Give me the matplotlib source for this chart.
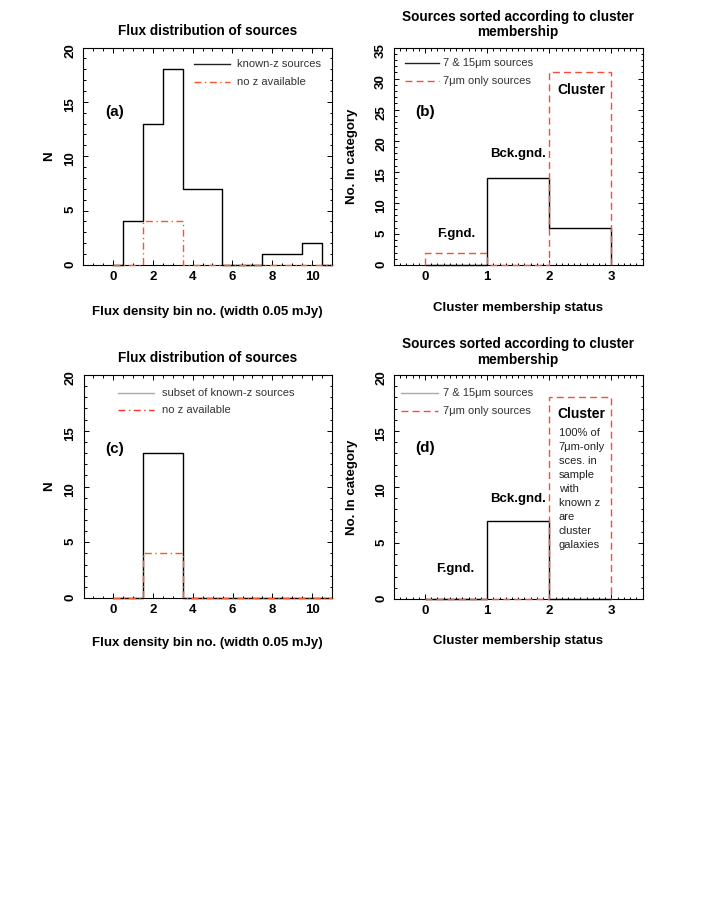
import matplotlib
matplotlib.use("Agg")
import matplotlib.pyplot as plt
import numpy as np
from matplotlib.ticker import MultipleLocator

plt.rcParams['font.family'] = ['Liberation Sans', 'DejaVu Sans']

# flux histograms, one value per bin number (psym=10 style steps)
flux_bins = [0, 1, 2, 3, 4, 5, 6, 7, 8, 9, 10, 11]
known_z_a = [0, 4, 13, 18, 7, 7, 0, 0, 1, 1, 2, 0]
no_z_a = [0, 0, 4, 4, 0, 0, 0, 0, 0, 0, 0, 0]
known_z_c = [0, 0, 13, 13, 0, 0, 0, 0, 0, 0, 0, 0]
no_z_c = [0, 0, 4, 4, 0, 0, 0, 0, 0, 0, 0, 0]

# cluster membership: 0-1 foreground, 1-2 background, 2-3 cluster
member_edges = [0, 1, 2, 3]
both_b = [0, 14, 6]
only7_b = [2, 0, 31]
both_d = [0, 7, 0]
only7_d = [0, 0, 18]

W, H = 706, 902
fig = plt.figure(figsize=(W / 100, H / 100), dpi=100)


def add_ax(left, right, top, bottom):
    return fig.add_axes([left / W, 1 - bottom / H, (right - left) / W, (bottom - top) / H])


def style(ax, xmaj, xmin, ymaj, ymin):
    ax.xaxis.set_major_locator(MultipleLocator(xmaj))
    ax.xaxis.set_minor_locator(MultipleLocator(xmin))
    ax.yaxis.set_major_locator(MultipleLocator(ymaj))
    ax.yaxis.set_minor_locator(MultipleLocator(ymin))
    ax.tick_params(which='both', direction='in', top=True, right=True, width=0.7)
    ax.tick_params(which='major', length=3.5, labelsize=9.5)
    ax.tick_params(which='minor', length=1.8)
    ax.tick_params(axis='x', pad=4)
    ax.tick_params(axis='y', labelrotation=90, pad=5)
    for lab in ax.get_xticklabels() + ax.get_yticklabels():
        lab.set_fontweight('bold')
    for s in ax.spines.values():
        s.set_linewidth(0.8)


def legend(ax, x0, x1, xt, rows):
    for y, lab, kw in rows:
        ax.plot([x0, x1], [y, y], transform=ax.transAxes, clip_on=False, **kw)
        ax.text(xt, y, lab, transform=ax.transAxes, fontsize=8, color='#333333',
                va='center', ha='left')


red_a = '#ff5522'
red_b = '#ff4a3a'
dashdot = (0, (5, 2.5, 1, 2.5))
dashed = (0, (5, 3))
line_kw = dict(lw=1.0, clip_on=False, zorder=3)
title2 = 'Sources sorted according to cluster\nmembership'

# ---- (a) ----
ax = add_ax(83, 332, 47.5, 265)
ax.step(flux_bins, known_z_a, where='mid', color='black', **line_kw)
ax.step(flux_bins, no_z_a, where='mid', color=red_a, linestyle=dashdot, **line_kw)
ax.set_xlim(-1.5, 11)
ax.set_ylim(0, 20)
style(ax, 2, 0.5, 5, 1)
ax.text(-0.4, 14.1, '(a)', fontsize=11, fontweight='bold', va='center')
legend(ax, 0.446, 0.590, 0.618,
       [(0.924, 'known-z sources', dict(color='#222222', lw=1.0)),
        (0.843, 'no z available', dict(color=red_a, lw=1.0, linestyle=dashdot))])
ax.set_title('Flux distribution of sources', fontsize=9.8, fontweight='bold', pad=9)
ax.set_xlabel('Flux density bin no. (width 0.05 mJy)', fontsize=9.5, fontweight='bold')
ax.xaxis.set_label_coords(0.5, -0.189)
ax.set_ylabel('N', fontsize=9.5, fontweight='bold')
ax.yaxis.set_label_coords(-0.112, 0.5)

# ---- (b) ----
ax = add_ax(394, 642.5, 47.5, 265)
ax.stairs(both_b, member_edges, baseline=0, color='black', **line_kw)
ax.stairs(only7_b, member_edges, baseline=0, color=red_b, linestyle=dashed, **line_kw)
ax.set_xlim(-0.5, 3.5)
ax.set_ylim(0, 35)
style(ax, 1, 0.1, 5, 1)
ax.text(-0.15, 24.7, '(b)', fontsize=11, fontweight='bold', va='center')
ax.text(1.5, 17.9, 'Bck.gnd.', fontsize=9.5, fontweight='bold', ha='center', va='center')
ax.text(0.51, 5.0, 'F.gnd.', fontsize=9.5, fontweight='bold', ha='center', va='center')
ax.text(2.52, 28.1, 'Cluster', fontsize=10, fontweight='bold', ha='center', va='center')
legend(ax, 0.044, 0.181, 0.196,
       [(0.927, '7 & 15μm sources', dict(color='#222222', lw=1.0)),
        (0.846, '7μm only sources', dict(color=red_b, lw=1.0, linestyle=dashed))])
ax.set_title(title2, fontsize=9.8, fontweight='bold', pad=8, linespacing=1.15)
ax.set_xlabel('Cluster membership status', fontsize=9.5, fontweight='bold')
ax.xaxis.set_label_coords(0.5, -0.170)
ax.set_ylabel('No. In category', fontsize=9.5, fontweight='bold')
ax.yaxis.set_label_coords(-0.145, 0.5)

# ---- (c) ----
ax = add_ax(83.5, 332, 375, 598)
ax.step(flux_bins, known_z_c, where='mid', color='black', **line_kw)
ax.step(flux_bins, no_z_c, where='mid', color=red_a, linestyle=dashdot, **line_kw)
ax.set_xlim(-1.5, 11)
ax.set_ylim(0, 20)
style(ax, 2, 0.5, 5, 1)
ax.text(-0.4, 13.4, '(c)', fontsize=11, fontweight='bold', va='center')
legend(ax, 0.139, 0.284, 0.316,
       [(0.918, 'subset of known-z sources', dict(color='#aaaaaa', lw=1.0)),
        (0.843, 'no z available', dict(color='#ff3322', lw=1.0, linestyle=dashdot))])
ax.set_title('Flux distribution of sources', fontsize=9.8, fontweight='bold', pad=9)
ax.set_xlabel('Flux density bin no. (width 0.05 mJy)', fontsize=9.5, fontweight='bold')
ax.xaxis.set_label_coords(0.5, -0.174)
ax.set_ylabel('N', fontsize=9.5, fontweight='bold')
ax.yaxis.set_label_coords(-0.115, 0.5)

# ---- (d) ----
ax = add_ax(394, 642.5, 375, 599)
ax.stairs(both_d, member_edges, baseline=0, color='black', **line_kw)
ax.stairs(only7_d, member_edges, baseline=0, color=red_b, linestyle=dashed, **line_kw)
ax.set_xlim(-0.5, 3.5)
ax.set_ylim(0, 20)
style(ax, 1, 0.1, 5, 1)
ax.text(-0.15, 13.5, '(d)', fontsize=11, fontweight='bold', va='center')
ax.text(1.5, 8.9, 'Bck.gnd.', fontsize=9.5, fontweight='bold', ha='center', va='center')
ax.text(0.48, 2.7, 'F.gnd.', fontsize=9.5, fontweight='bold', ha='center', va='center')
ax.text(2.52, 16.5, 'Cluster', fontsize=10, fontweight='bold', ha='center', va='center')
ax.text(2.15, 15.3, '100% of\n7μm-only\nsces. in\nsample\nwith\nknown z\nare\ncluster\ngalaxies',
        fontsize=8, color='#222222', ha='left', va='top', linespacing=1.5)
legend(ax, 0.028, 0.178, 0.196,
       [(0.918, '7 & 15μm sources', dict(color='#aaaaaa', lw=1.0)),
        (0.839, '7μm only sources', dict(color=red_b, lw=1.0, linestyle=dashed))])
ax.set_title(title2, fontsize=9.8, fontweight='bold', pad=8, linespacing=1.15)
ax.set_xlabel('Cluster membership status', fontsize=9.5, fontweight='bold')
ax.xaxis.set_label_coords(0.5, -0.161)
ax.set_ylabel('No. In category', fontsize=9.5, fontweight='bold')
ax.yaxis.set_label_coords(-0.145, 0.5)

fig.savefig('out.png', dpi=100, facecolor='white')
